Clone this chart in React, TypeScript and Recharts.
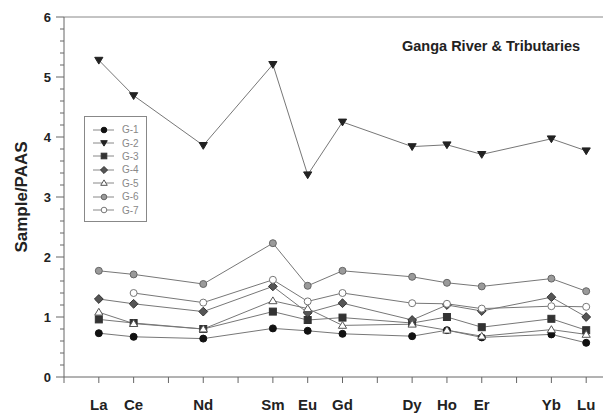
import { LineChart, Line, XAxis, YAxis, ReferenceLine, Legend } from 'recharts';

// REE normalised to PAAS, Ganga River & Tributaries
const elementZ = [57, 58, 60, 62, 63, 64, 66, 67, 68, 70, 71];
const elementLabels = ['La', 'Ce', 'Nd', 'Sm', 'Eu', 'Gd', 'Dy', 'Ho', 'Er', 'Yb', 'Lu'];

const g1 = [0.73, 0.67, 0.64, 0.81, 0.77, 0.72, 0.68, 0.78, 0.66, 0.71, 0.57];
const g2 = [5.28, 4.69, 3.86, 5.21, 3.37, 4.25, 3.84, 3.87, 3.71, 3.97, 3.77];
const g3 = [0.96, 0.9, 0.8, 1.09, 0.95, 0.99, 0.9, 1.0, 0.83, 0.97, 0.78];
const g4 = [1.3, 1.22, 1.09, 1.51, 1.07, 1.23, 0.95, 1.2, 1.1, 1.33, 1.0];
const g5 = [1.08, 0.89, 0.8, 1.27, 1.14, 0.86, 0.88, 0.78, 0.68, 0.79, 0.71];
const g6 = [1.77, 1.71, 1.55, 2.23, 1.52, 1.77, 1.67, 1.57, 1.51, 1.64, 1.43];
const g7 = [null, 1.4, 1.24, 1.62, 1.26, 1.4, 1.23, 1.22, 1.14, 1.18, 1.17];

const xTicks = [56, 57, 58, 59, 60, 61, 62, 63, 64, 65, 66, 67, 68, 69, 70, 71, 72];
const yTicks = Array.from({ length: 31 }, (_, i) => Math.round(i * 2) / 10);

const series = [
  { name: 'G-1', values: g1, shape: 'circle', fill: '#111', stroke: '#111' },
  { name: 'G-2', values: g2, shape: 'triDown', fill: '#222', stroke: '#222' },
  { name: 'G-3', values: g3, shape: 'square', fill: '#333', stroke: '#333' },
  { name: 'G-4', values: g4, shape: 'diamond', fill: '#555', stroke: '#333' },
  { name: 'G-5', values: g5, shape: 'triUp', fill: '#fff', stroke: '#555' },
  { name: 'G-6', values: g6, shape: 'circle', fill: '#9a9a9a', stroke: '#666' },
  { name: 'G-7', values: g7, shape: 'circle', fill: '#fff', stroke: '#777' },
];

const data = elementZ.map((z, i) => {
  const row: any = { z };
  series.forEach((s) => (row[s.name] = s.values[i]));
  return row;
});

const font = '"Liberation Sans", Arial, sans-serif';

function Marker({ cx, cy, shape, fill, stroke, k = 1 }: any) {
  const r = 3.5 * k;
  if (shape === 'circle') return <circle cx={cx} cy={cy} r={r} fill={fill} stroke={stroke} strokeWidth={1} />;
  if (shape === 'square')
    return <rect x={cx - r} y={cy - r} width={r * 2} height={r * 2} fill={fill} stroke={stroke} strokeWidth={1} />;
  let pts = '';
  const a = 4.1 * k;
  const b = 2.9 * k;
  const c = 3.9 * k;
  if (shape === 'triDown') pts = `${cx - a},${cy - b} ${cx + a},${cy - b} ${cx},${cy + c}`;
  if (shape === 'triUp') pts = `${cx - a},${cy + b} ${cx + a},${cy + b} ${cx},${cy - c}`;
  if (shape === 'diamond') pts = `${cx},${cy - 4.4 * k} ${cx + 4.4 * k},${cy} ${cx},${cy + 4.4 * k} ${cx - 4.4 * k},${cy}`;
  return <polygon points={pts} fill={fill} stroke={stroke} strokeWidth={1} />;
}

function YTick({ x, y, payload }: any) {
  const v = payload.value;
  const major = Math.abs(v - Math.round(v)) < 1e-6;
  return (
    <g>
      <line x1={x - (major ? 8 : 4)} x2={x} y1={y} y2={y} stroke="#666" />
      {major && (
        <text x={x - 13} y={y} dy={4.5} textAnchor="end" fontSize={13} fontWeight="bold" fill="#222" fontFamily={font}>
          {Math.round(v)}
        </text>
      )}
    </g>
  );
}

function XTick({ x, y, payload }: any) {
  const idx = elementZ.indexOf(payload.value);
  return (
    <g>
      <line x1={x} x2={x} y1={y} y2={y + 6} stroke="#666" />
      {idx >= 0 && (
        <text x={x} y={y + 33} textAnchor="middle" fontSize={15} fontWeight="bold" fill="#222" fontFamily={font}>
          {elementLabels[idx]}
        </text>
      )}
    </g>
  );
}

function LegendBox({ payload }: any) {
  return (
    <div
      style={{
        border: '1px solid #888',
        width: 63,
        height: 106,
        boxSizing: 'border-box',
        paddingTop: 6,
        background: '#fff',
      }}
    >
      {(payload || []).map((p: any) => {
        const s = series.find((d) => d.name === p.value)!;
        return (
          <div key={p.value} style={{ display: 'flex', alignItems: 'center', height: 13.4 }}>
            <svg width={30} height={12} style={{ marginLeft: 7 }}>
              <line x1={1} x2={22} y1={6} y2={6} stroke="#888" />
              <Marker cx={12} cy={6} shape={s.shape} fill={s.fill} stroke={s.stroke} k={0.8} />
            </svg>
            <span style={{ fontFamily: font, fontSize: 10, color: '#888' }}>{p.value}</span>
          </div>
        );
      })}
    </div>
  );
}

export default function App() {
  return (
    <div style={{ position: 'relative', width: 603, height: 406, overflow: 'hidden', background: '#fff' }}>
      <LineChart width={625} height={406} data={data} margin={{ top: 9, right: 12, bottom: 7, left: 10 }}>
        <XAxis
          dataKey="z"
          type="number"
          domain={[56, 72]}
          ticks={xTicks}
          interval={0}
          tickSize={0}
          tickMargin={0}
          height={30}
          stroke="#666"
          tick={<XTick />}
        />
        <YAxis
          type="number"
          domain={[0, 6]}
          ticks={yTicks}
          interval={0}
          tickSize={0}
          tickMargin={0}
          width={46}
          stroke="#666"
          tick={<YTick />}
        />
        <ReferenceLine y={6} stroke="#888" />
        <Legend
          layout="vertical"
          align="center"
          verticalAlign="middle"
          wrapperStyle={{ left: 76, top: 108, width: 63 }}
          content={<LegendBox />}
        />
        {series.map((s) => (
          <Line
            key={s.name}
            dataKey={s.name}
            name={s.name}
            type="linear"
            stroke="#777"
            strokeWidth={1}
            isAnimationActive={false}
            dot={(p: any) =>
              p.cy == null ? (
                <g key={p.index} />
              ) : (
                <Marker key={p.index} cx={p.cx} cy={p.cy} shape={s.shape} fill={s.fill} stroke={s.stroke} />
              )
            }
          />
        ))}
      </LineChart>
      <div
        style={{
          position: 'absolute',
          left: 394,
          top: 31,
          fontFamily: font,
          fontSize: 14.5,
          fontWeight: 'bold',
          color: '#222',
          lineHeight: '15px',
          whiteSpace: 'nowrap',
        }}
      >
        Ganga River &amp; Tributaries
      </div>
      <div
        style={{
          position: 'absolute',
          left: 14,
          top: 189,
          transform: 'translate(-50%, -50%) rotate(-90deg)',
          fontFamily: font,
          fontSize: 17,
          fontWeight: 'bold',
          color: '#222',
          whiteSpace: 'nowrap',
        }}
      >
        Sample/PAAS
      </div>
    </div>
  );
}
